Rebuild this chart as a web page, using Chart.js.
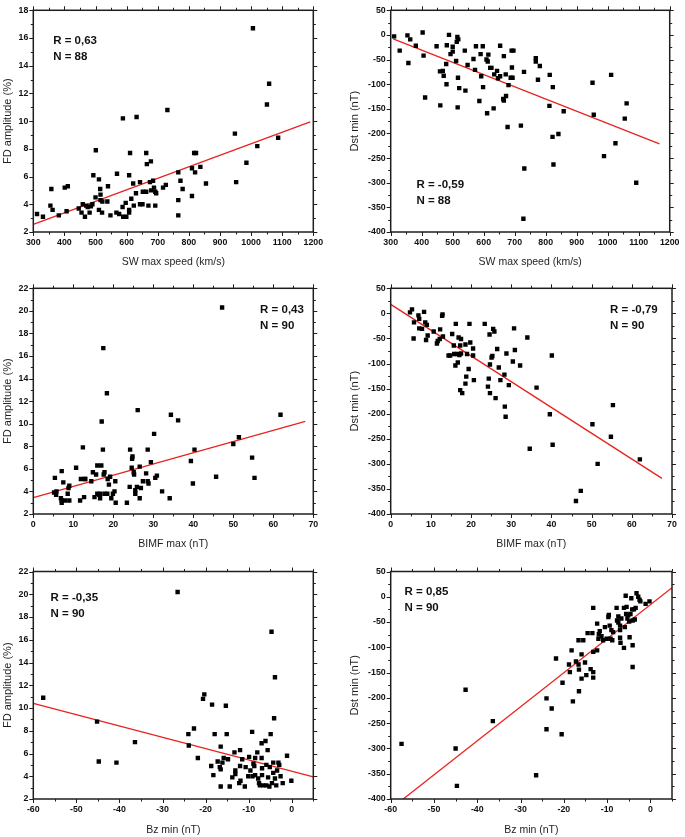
<!DOCTYPE html>
<html>
<head>
<meta charset="utf-8">
<script src="https://cdn.jsdelivr.net/npm/chart.js@4.4.1/dist/chart.umd.min.js"></script>
<style>
  html, body { margin: 0; padding: 0; background: #fff; }
  #wrap { position: relative; width: 685px; height: 837px; }
  #wrap canvas { position: absolute; }
</style>
</head>
<body>
<div id="wrap">
  <canvas id="p1" width="340" height="278" style="left:0;top:0"></canvas>
  <canvas id="p2" width="345" height="278" style="left:340px;top:0"></canvas>
  <canvas id="p3" width="340" height="280" style="left:0;top:278px"></canvas>
  <canvas id="p4" width="345" height="280" style="left:340px;top:278px"></canvas>
  <canvas id="p5" width="340" height="279" style="left:0;top:558px"></canvas>
  <canvas id="p6" width="345" height="279" style="left:340px;top:558px"></canvas>
</div>
<script>
// --- data ---
// SW max speed (km/s) vs FD amplitude (%)
const speedFd = [312,331,355,358,362,382,401,411,407,446,455,459,466,470,475,481,485,490,493,501,500,511,515,516,516,522,511,521,538,540,548,569,567,576,588,587,589,597,599,608,608,608,611,615,621,623,630,632,643,643,651,652,663,665,663,670,675,678,679,685,688,692,692,695,717,726,731,766,766,766,773,780,810,810,817,823,820,837,855,948,952,985,1006,1020,1051,1058,1087];
const fdBySpeed = [3.3,3.1,3.9,5.1,3.6,3.2,5.2,5.3,3.5,3.7,3.4,4.0,3.1,3.9,3.8,3.4,3.85,4.0,6.1,7.9,4.5,5.8,5.1,4.7,4.3,4.2,3.6,3.4,4.2,5.3,3.2,6.2,3.4,3.3,10.2,3.8,3.1,4.1,3.1,3.6,6.1,3.4,7.7,4.4,5.5,3.9,4.8,10.3,5.6,4.0,4.0,4.9,7.7,6.9,4.9,3.9,5.6,7.1,5.0,5.7,5.2,4.9,3.9,4.8,5.2,5.4,10.8,6.3,4.3,3.2,5.7,5.1,6.6,4.6,7.7,7.7,6.3,6.7,5.5,9.1,5.6,7.0,16.7,8.2,11.2,12.7,8.8];
const fitSpeedFdX = [300, 1190];
const fitSpeedFdY = [2.55, 9.95];

// SW max speed (km/s) vs Dst min (nT)
const speedDst = [311,329,354,357,363,381,403,406,411,448,459,460,468,471,479,481,480,488,493,500,500,511,513,515,518,517,516,521,539,541,548,567,572,575,586,590,592,597,598,609,611,613,615,621,625,632,634,643,646,653,653,665,663,665,671,672,677,680,687,690,691,696,693,720,730,731,728,768,768,775,781,813,812,822,823,825,841,858,951,955,988,1011,1025,1055,1061,1092];
const dstBySpeed = [-3,-32,-1,-57,-9,-22,5,-42,-127,-23,-74,-143,-73,-83,-59,-21,-100,0,-39,-24,-34,-53,-14,-4,-9,-87,-147,-108,-32,-113,-61,-49,-71,-23,-134,-39,-84,-23,-106,-50,-159,-54,-40,-67,-67,-149,-80,-73,-88,-22,-84,-43,-130,-133,-80,-124,-187,-102,-87,-32,-66,-32,-87,-184,-75,-271,-373,-47,-54,-91,-63,-81,-144,-207,-106,-263,-201,-155,-97,-162,-246,-81,-220,-170,-139,-300];
const fitSpeedDstX = [308, 1167];
const fitSpeedDstY = [-8, -221];

// BIMF max (nT) vs FD amplitude (%)
const bimfFd = [5.4,5.2,5.7,5.8,7.1,6.9,7.1,7.1,7.5,7.9,8.6,8.8,9.0,9.0,10.7,12.4,11.9,11.7,12.7,12.9,13.0,14.5,14.9,15.3,15.7,16.0,16.0,16.5,16.7,16.7,17.0,17.1,17.5,17.4,17.6,17.8,17.8,18.4,18.5,18.6,18.9,19.2,19.5,19.9,20.3,20.5,20.6,23.4,24.1,24.2,24.6,24.7,24.8,25.1,25.2,25.5,25.5,25.9,26.1,26.6,26.6,26.9,27.4,28.2,28.6,28.6,28.8,29.4,30.2,30.5,30.9,32.2,34.1,34.4,36.2,39.4,39.9,40.3,45.7,47.2,50.0,51.4,54.7,55.3,61.8];
const fdByBimf = [5.2,3.9,3.7,4.0,5.8,3.4,3.0,3.2,4.8,3.2,3.8,4.3,4.5,3.2,6.1,7.9,5.1,3.2,3.5,5.1,5.1,4.9,5.7,3.5,5.5,6.3,3.8,3.7,3.8,3.4,6.3,10.2,16.7,7.7,5.5,5.7,3.8,12.7,3.8,5.1,4.6,5.3,3.4,3.8,4.0,4.9,3.0,3.0,4.4,7.7,6.1,6.9,7.1,5.7,5.5,3.8,4.1,4.4,11.2,6.2,3.4,4.3,4.9,5.6,7.7,4.9,4.7,6.6,9.1,5.2,5.4,4.0,3.4,10.8,10.3,6.7,4.7,7.7,5.3,20.3,8.2,8.8,7.0,5.2,10.8];
const fitBimfFdX = [0, 68];
const fitBimfFdY = [3.45, 10.2];

// BIMF max (nT) vs Dst min (nT)
const bimfDst = [4.8,5.3,5.8,5.7,6.9,7.1,7.1,7.8,8.3,8.6,9.0,8.8,9.2,10.7,11.5,11.7,12.2,12.3,12.8,12.9,13.0,14.4,14.8,15.3,15.7,15.8,16.1,16.2,16.5,16.7,16.9,17.1,17.3,17.5,17.3,17.8,17.5,18.6,18.6,18.8,19.0,19.4,19.6,19.8,20.5,20.5,20.7,23.4,24.2,24.4,24.6,24.7,24.7,25.1,25.3,25.5,25.8,26.1,26.5,26.9,27.3,28.3,28.4,28.6,28.8,29.4,30.4,30.7,30.9,32.2,34.0,34.6,36.3,39.6,40.1,40.3,46.1,47.3,50.2,51.5,54.8,55.3,62.0];
const dstByBimf = [2,8,-18,-50,-4,-11,-30,-31,3,-18,-23,-53,-44,-36,-60,-55,-51,-32,-5,-2,-46,-84,-84,-41,-64,-81,-104,-21,-81,-98,-48,-83,-64,-51,-153,-159,-80,-62,-140,-126,-81,-111,-21,-58,-84,-70,-133,-21,-146,-130,-42,-102,-159,-88,-85,-31,-36,-169,-71,-108,-133,-122,-186,-206,-80,-143,-96,-30,-73,-104,-48,-270,-148,-201,-84,-262,-374,-354,-221,-300,-246,-183,-291];
const fitBimfDstX = [0, 67.5];
const fitBimfDstY = [18, -329];

// Bz min (nT) vs FD amplitude (%)
const bzFd = [-57.7,-45.2,-44.8,-40.7,-36.4,-26.5,-24.0,-23.9,-22.7,-21.8,-20.6,-20.3,-18.7,-18.5,-18.2,-17.9,-17.2,-16.7,-16.5,-16.5,-16.5,-16.1,-15.8,-15.3,-15.1,-14.8,-14.4,-13.8,-13.3,-13.1,-13.1,-12.2,-12.0,-12.0,-11.9,-11.5,-10.9,-10.7,-10.1,-9.9,-9.6,-9.2,-9.1,-8.9,-8.7,-8.5,-8.5,-8.0,-7.8,-7.6,-7.4,-7.0,-7.0,-6.9,-6.9,-6.6,-6.1,-5.9,-5.9,-5.6,-5.5,-5.2,-5.1,-4.9,-4.7,-4.6,-4.3,-4.3,-4.1,-3.9,-3.9,-3.6,-3.4,-3.1,-2.9,-2.6,-2.1,-1.1,-0.1];
const fdByBz = [10.9,8.8,5.3,5.2,7.0,20.2,7.7,6.7,8.2,5.6,10.8,11.2,4.9,10.3,4.1,7.7,5.3,4.8,4.6,6.6,3.1,5.2,5.6,10.2,7.7,5.5,3.1,3.9,6.1,4.2,4.5,3.4,6.3,4.9,3.6,5.5,3.1,4.8,4.0,5.7,4.5,7.9,4.0,5.1,4.9,5.6,4.1,6.1,3.8,3.4,3.2,6.9,5.6,4.7,4.1,3.2,7.1,5.0,3.2,6.3,3.9,3.1,4.8,7.7,16.7,3.4,5.2,4.3,9.1,12.7,3.8,3.2,4.5,5.2,5.0,4.0,3.4,5.8,3.6];
const fitBzFdX = [-60, 5];
const fitBzFdY = [10.4, 3.95];

// Bz min (nT) vs Dst min (nT)
const bzDst = [-57.5,-45.0,-44.7,-42.7,-36.4,-26.4,-24.0,-24.0,-22.8,-21.8,-20.5,-20.3,-18.8,-18.6,-18.2,-17.9,-17.2,-16.6,-16.6,-16.5,-16.5,-15.9,-15.9,-15.5,-15.1,-14.8,-14.5,-13.8,-13.4,-13.2,-13.2,-13.2,-13.2,-12.3,-12.3,-12.0,-11.9,-11.7,-11.3,-10.9,-10.5,-10.1,-9.7,-9.6,-9.4,-9.2,-9.0,-8.8,-8.6,-7.8,-7.7,-7.4,-7.4,-7.0,-7.0,-6.9,-7.0,-6.7,-6.1,-6.1,-5.9,-5.7,-5.6,-5.5,-5.3,-5.1,-4.9,-4.8,-4.6,-4.4,-4.2,-4.1,-4.1,-4.1,-3.8,-3.6,-3.4,-3.2,-2.8,-2.5,-2.3,-1.1,-0.2];
const dstByBz = [-291,-300,-374,-184,-246,-353,-201,-262,-221,-122,-272,-170,-134,-149,-106,-207,-128,-134,-86,-144,-187,-114,-162,-86,-130,-155,-72,-143,-72,-149,-160,-109,-22,-53,-106,-83,-74,-68,-78,-86,-60,-83,-40,-36,-57,-83,-66,-86,-70,-22,-47,-39,-51,-57,-81,-91,-66,-43,-101,-22,-60,2,-34,-20,-43,-36,-49,-80,-34,-3,-25,-47,-96,-139,-25,-45,-22,7,0,-6,-9,-14,-9];
const fitBzDstX = [-57.1, 5];
const fitBzDstY = [-400, 17.8];

const fdTicks = { min: 2, max: 22, step: 2 };
const dstTicks = { min: -400, max: 50, step: 50 };

const FONT = "'Liberation Sans', Arial, sans-serif";
const INK = '#1e1e1e';

// frame with outward major/minor ticks on all four sides + the R/N text
const frameTicks = {
  id: 'frameTicks',
  afterDatasetsDraw(chart) {
    const { ctx, chartArea: a, scales: { x, y } } = chart;
    const o = chart.options.plugins.frameTicks;
    ctx.save();
    ctx.strokeStyle = INK;
    ctx.lineWidth = 1;
    const seg = (x1, y1, x2, y2) => { ctx.beginPath(); ctx.moveTo(x1, y1); ctx.lineTo(x2, y2); ctx.stroke(); };
    const isMajor = (v, s) => Math.abs(v / s - Math.round(v / s)) < 1e-6;

    const hs = o.xStep / 2;
    for (let v = Math.ceil(x.min / hs - 1e-9) * hs; v <= x.max + 1e-9; v += hs) {
      const px = Math.round(x.getPixelForValue(v)) + 0.5;
      const len = isMajor(v, o.xStep) ? 4 : 2.5;
      seg(px, a.bottom, px, a.bottom + len);
      seg(px, a.top, px, a.top - len);
    }
    const vs = o.yStep / 2;
    for (let v = Math.ceil(y.min / vs - 1e-9) * vs; v <= y.max + 1e-9; v += vs) {
      const py = Math.round(y.getPixelForValue(v)) + 0.5;
      const len = isMajor(v, o.yStep) ? 4 : 2.5;
      seg(a.left, py, a.left - len, py);
      seg(a.right, py, a.right + len, py);
    }
    ctx.lineWidth = 1.5;
    ctx.strokeRect(a.left, a.top, a.width, a.height);

    ctx.fillStyle = '#111';
    ctx.font = 'bold 11.5px ' + FONT;
    ctx.textAlign = 'left';
    ctx.textBaseline = 'middle';
    const tx = x.getPixelForValue(o.statsAt[0]);
    const ty = y.getPixelForValue(o.statsAt[1]);
    o.stats.forEach((t, i) => ctx.fillText(t, tx, ty + i * 16));
    ctx.restore();
  }
};

function pairs(xs, ys) {
  return xs.map((v, i) => ({ x: v, y: ys[i] }));
}

function panel(id, p) {
  new Chart(document.getElementById(id), {
    type: 'scatter',
    data: {
      datasets: [
        {
          data: pairs(p.xs, p.ys),
          pointStyle: 'rect',
          pointRadius: 3.1,
          pointBackgroundColor: '#000',
          pointBorderWidth: 0,
          showLine: false
        },
        {
          data: pairs(p.fitX, p.fitY),
          showLine: true,
          pointRadius: 0,
          borderColor: '#e8231f',
          borderWidth: 1.3
        }
      ]
    },
    options: {
      responsive: false,
      animation: false,
      devicePixelRatio: 1,
      layout: { padding: { top: p.padTop, right: p.padRight, left: 0, bottom: 0 } },
      plugins: {
        legend: { display: false },
        tooltip: { enabled: false },
        frameTicks: { xStep: p.xr.step, yStep: p.yr.step, stats: p.stats, statsAt: p.statsAt }
      },
      scales: {
        x: {
          type: 'linear',
          min: p.xr.min,
          max: p.xr.max,
          grid: { display: false, drawTicks: false },
          border: { display: false },
          ticks: {
            stepSize: p.xr.step,
            includeBounds: false,
            autoSkip: false,
            maxRotation: 0,
            padding: 5.5,
            color: '#111',
            font: { family: FONT, size: 8.8, weight: 'bold' },
            callback: v => String(v)
          },
          title: {
            display: true,
            text: p.xTitle,
            color: INK,
            font: { family: FONT, size: 10.5 },
            padding: { top: 0, bottom: p.xTitlePad }
          },
          afterFit(s) { s.height = p.xAxisH; }
        },
        y: {
          type: 'linear',
          min: p.yr.min,
          max: p.yr.max,
          grid: { display: false, drawTicks: false },
          border: { display: false },
          ticks: {
            stepSize: p.yr.step,
            includeBounds: false,
            autoSkip: false,
            padding: 5,
            color: '#111',
            font: { family: FONT, size: 8.8, weight: 'bold' },
            callback: v => String(v)
          },
          title: {
            display: true,
            text: p.yTitle,
            color: INK,
            font: { family: FONT, size: 11 },
            padding: { top: p.yTitlePad, bottom: 0 }
          },
          afterFit(s) { s.width = p.yAxisW; }
        }
      }
    },
    plugins: [frameTicks]
  });
}

const leftCol = { padRight: 26.7, yAxisW: 33.3, yTitlePad: 1.2, yTitle: 'FD amplitude (%)' };
const rightCol = { padRight: 13, yAxisW: 50.7, yTitlePad: 8.4, yTitle: 'Dst min (nT)' };
const row1 = { padTop: 5, xAxisH: 46, xTitlePad: 9.2 };
const row2 = { padTop: 10.3, xAxisH: 44, xTitlePad: 7.7 };
const row3 = { padTop: 13.5, xAxisH: 38, xTitlePad: 0.7 };

panel('p1', Object.assign({}, leftCol, row1, {
  xs: speedFd, ys: fdBySpeed, fitX: fitSpeedFdX, fitY: fitSpeedFdY,
  xr: { min: 300, max: 1200, step: 100 }, yr: { min: 2, max: 18, step: 2 },
  xTitle: 'SW max speed (km/s)', stats: ['R = 0,63', 'N = 88'], statsAt: [364, 15.8]
}));
panel('p2', Object.assign({}, rightCol, row1, {
  xs: speedDst, ys: dstBySpeed, fitX: fitSpeedDstX, fitY: fitSpeedDstY,
  xr: { min: 300, max: 1200, step: 100 }, yr: dstTicks,
  xTitle: 'SW max speed (km/s)', stats: ['R = -0,59', 'N = 88'], statsAt: [383, -305]
}));
panel('p3', Object.assign({}, leftCol, row2, {
  xs: bimfFd, ys: fdByBimf, fitX: fitBimfFdX, fitY: fitBimfFdY,
  xr: { min: 0, max: 70, step: 10 }, yr: fdTicks,
  xTitle: 'BIMF max (nT)', stats: ['R = 0,43', 'N = 90'], statsAt: [56.7, 20.1]
}));
panel('p4', Object.assign({}, rightCol, row2, {
  xs: bimfDst, ys: dstByBimf, fitX: fitBimfDstX, fitY: fitBimfDstY,
  xr: { min: 0, max: 70, step: 10 }, yr: dstTicks,
  xTitle: 'BIMF max (nT)', stats: ['R = -0,79', 'N = 90'], statsAt: [54.6, 8]
}));
panel('p5', Object.assign({}, leftCol, row3, {
  xs: bzFd, ys: fdByBz, fitX: fitBzFdX, fitY: fitBzFdY,
  xr: { min: -60, max: 5, step: 10 }, yr: fdTicks,
  xTitle: 'Bz min (nT)', stats: ['R = -0,35', 'N = 90'], statsAt: [-56, 19.7]
}));
panel('p6', Object.assign({}, rightCol, row3, {
  xs: bzDst, ys: dstByBz, fitX: fitBzDstX, fitY: fitBzDstY,
  xr: { min: -60, max: 5, step: 10 }, yr: dstTicks,
  xTitle: 'Bz min (nT)', stats: ['R = 0,85', 'N = 90'], statsAt: [-56.8, 10.5]
}));
</script>
</body>
</html>
